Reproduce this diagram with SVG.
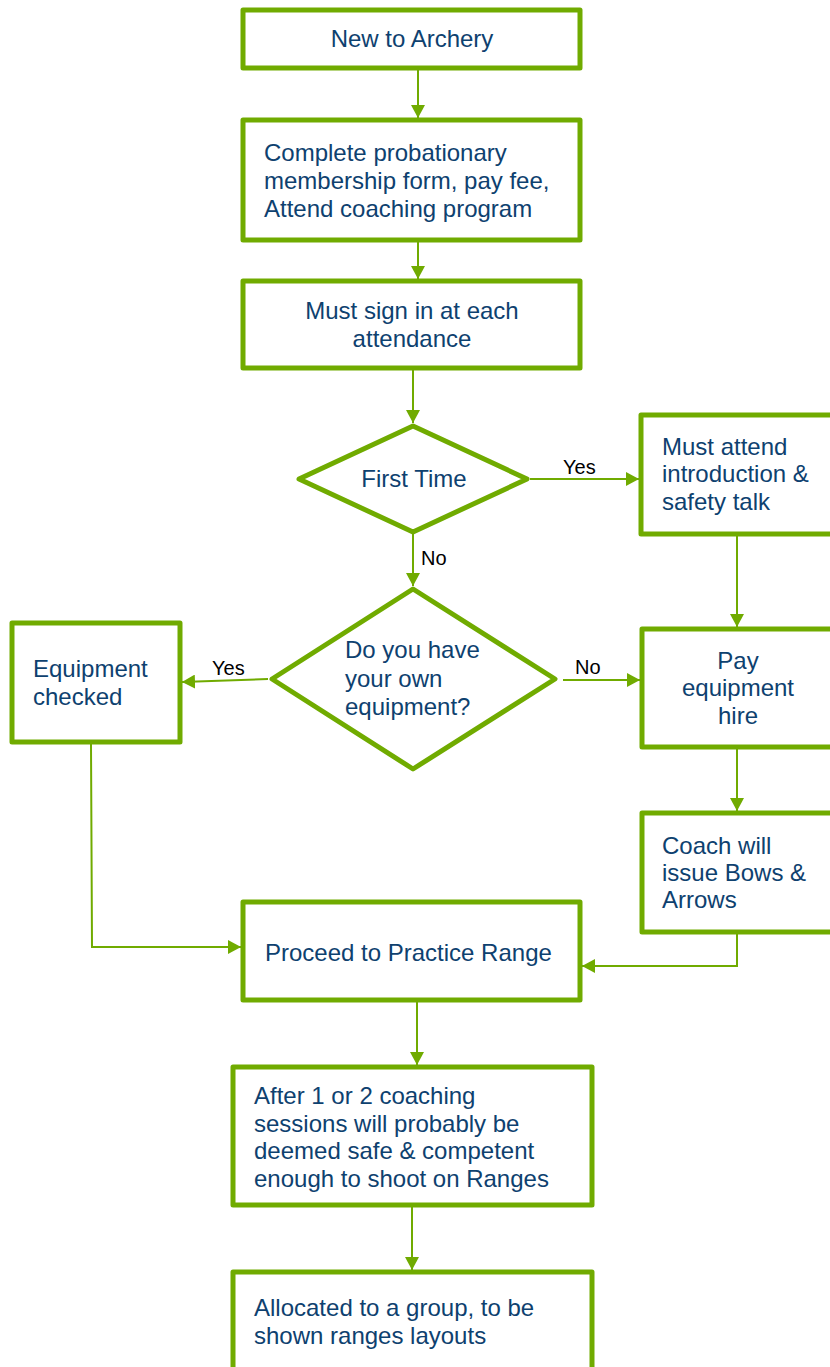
<svg xmlns="http://www.w3.org/2000/svg" width="830" height="1367" viewBox="0 0 830 1367">
<defs>
<marker id="ah" markerUnits="userSpaceOnUse" markerWidth="14" markerHeight="14" viewBox="0 0 14 14" refX="13" refY="7" orient="auto">
<path d="M0,0 L13,7 L0,14 Z" fill="#70AB00"/>
</marker>
<style>
.box{fill:#ffffff;stroke:#70AB00;stroke-width:5;stroke-linejoin:round}
.t{font-family:"Liberation Sans",Arial,sans-serif;font-size:24px;fill:#0E416F}
.c{text-anchor:middle}
.lbl{font-family:"Liberation Sans",Arial,sans-serif;font-size:20px;fill:#000000}
.ln{fill:none;stroke:#70AB00;stroke-width:2;marker-end:url(#ah)}
</style>
</defs>
<rect width="830" height="1367" fill="#ffffff"/>
<g id="connectors">
<path class="ln" d="M418,70 L418,118"/>
<path class="ln" d="M418,242 L418,279"/>
<path class="ln" d="M413,370 L413,423"/>
<path class="ln" d="M530,479 L639,479"/>
<path class="ln" d="M413,534 L413,586"/>
<path class="ln" d="M737,536 L737,627"/>
<path class="ln" d="M268,679 L182,682"/>
<path class="ln" d="M563,680 L640,680"/>
<path class="ln" d="M737,749 L737,811"/>
<path class="ln" d="M91,744 L92,947 L241,947"/>
<path class="ln" d="M737,934 L737,966 L582,966"/>
<path class="ln" d="M417,1002 L417,1065"/>
<path class="ln" d="M412,1207 L412,1270"/>
<text class="lbl" x="563" y="474">Yes</text>
<text class="lbl" x="421" y="565">No</text>
<text class="lbl" x="212" y="675">Yes</text>
<text class="lbl" x="575" y="674">No</text>
</g>
<g id="n1">
<rect class="box" x="243" y="10" width="337" height="58"/>
<text class="t c" x="412" y="47">New to Archery</text>
</g>
<g id="n2">
<rect class="box" x="243" y="120" width="337" height="120"/>
<text class="t" x="264" y="161">Complete probationary</text>
<text class="t" x="264" y="189">membership form, pay fee,</text>
<text class="t" x="264" y="217">Attend coaching program</text>
</g>
<g id="n3">
<rect class="box" x="243" y="281" width="337" height="87"/>
<text class="t c" x="412" y="319">Must sign in at each</text>
<text class="t c" x="412" y="347">attendance</text>
</g>
<g id="d1">
<polygon class="box" points="299,479 413,426 527,479 413,532"/>
<text class="t c" x="414" y="487">First Time</text>
</g>
<g id="n4">
<rect class="box" x="641" y="415" width="200" height="119"/>
<text class="t" x="662" y="455">Must attend</text>
<text class="t" x="662" y="482">introduction &amp;</text>
<text class="t" x="662" y="510">safety talk</text>
</g>
<g id="d2">
<polygon class="box" points="272,679 413,589 555,679 413,769"/>
<text class="t" x="345" y="658">Do you have</text>
<text class="t" x="345" y="687">your own</text>
<text class="t" x="345" y="715">equipment?</text>
</g>
<g id="n5">
<rect class="box" x="12" y="623" width="168" height="119"/>
<text class="t" x="33" y="677">Equipment</text>
<text class="t" x="33" y="705">checked</text>
</g>
<g id="n6">
<rect class="box" x="642" y="629" width="200" height="118"/>
<text class="t c" x="738" y="669">Pay</text>
<text class="t c" x="738" y="696">equipment</text>
<text class="t c" x="738" y="724">hire</text>
</g>
<g id="n7">
<rect class="box" x="642" y="813" width="200" height="119"/>
<text class="t" x="662" y="854">Coach will</text>
<text class="t" x="662" y="881">issue Bows &amp;</text>
<text class="t" x="662" y="908">Arrows</text>
</g>
<g id="n8">
<rect class="box" x="243" y="902" width="337" height="98"/>
<text class="t" x="265" y="961">Proceed to Practice Range</text>
</g>
<g id="n9">
<rect class="box" x="233" y="1067" width="359" height="138"/>
<text class="t" x="254" y="1104">After 1 or 2 coaching</text>
<text class="t" x="254" y="1132">sessions will probably be</text>
<text class="t" x="254" y="1159">deemed safe &amp; competent</text>
<text class="t" x="254" y="1187">enough to shoot on Ranges</text>
</g>
<g id="n10">
<rect class="box" x="233" y="1272" width="359" height="110"/>
<text class="t" x="254" y="1316">Allocated to a group, to be</text>
<text class="t" x="254" y="1344">shown ranges layouts</text>
</g>
</svg>
